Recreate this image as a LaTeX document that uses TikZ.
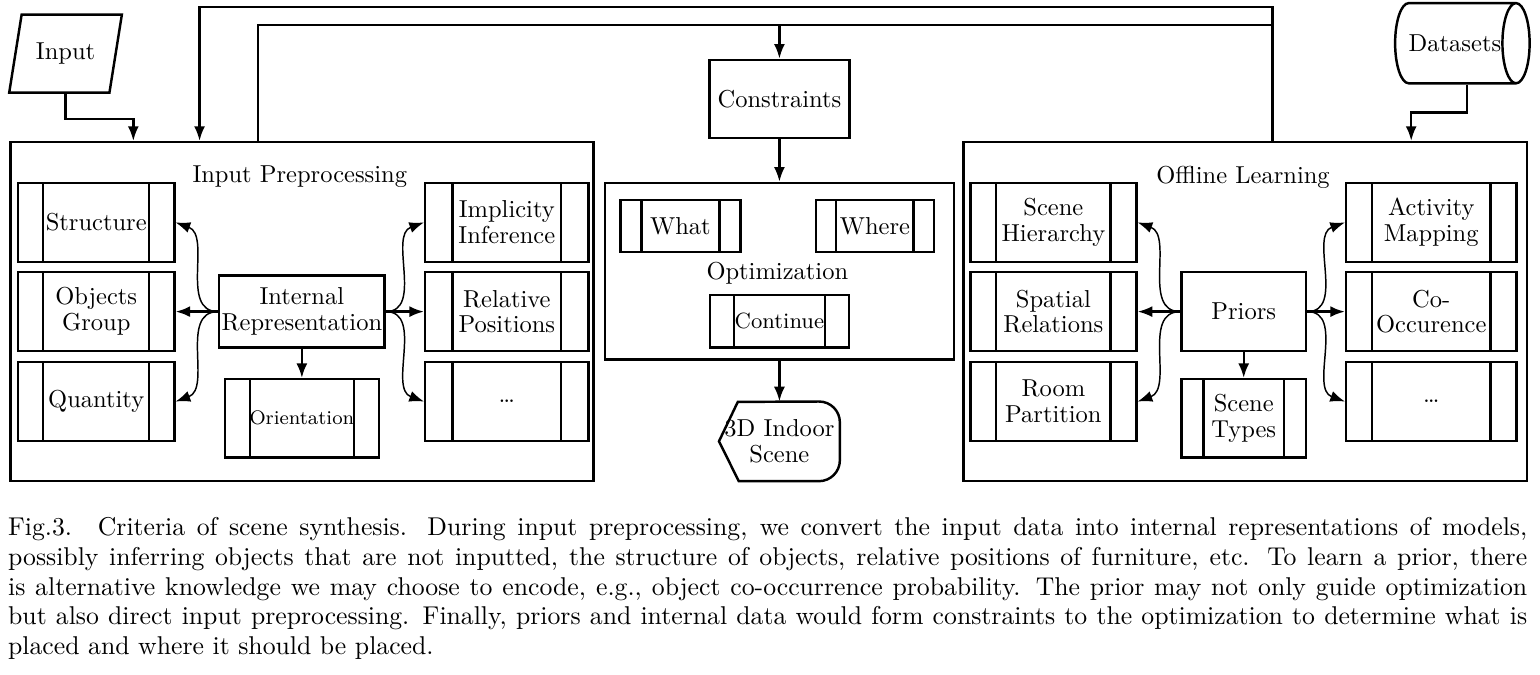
\documentclass[tikz,border=0pt]{standalone}
\usetikzlibrary{shapes.geometric,arrows.meta}

\begin{document}
\begin{tikzpicture}[
  font=\linespread{0.88}\selectfont,
  box/.style={draw, line width=1pt, align=center},
  proc/.style={box, path picture={
      \draw[line width=1pt]
        ([xshift=#1]path picture bounding box.north west) -- ([xshift=#1]path picture bounding box.south west)
        ([xshift=-#1]path picture bounding box.north east) -- ([xshift=-#1]path picture bounding box.south east);}},
  proc/.default=0.36cm,
  arr/.style={line width=1pt, -{Latex[length=6pt,width=4.5pt]}},
  carr/.style={line width=0.6pt, -{Latex[length=6pt,width=4.5pt]}},
  wire/.style={line width=1pt},
]
  \useasboundingbox (0,0) rectangle (22.09,-9.68);

  % input and datasets
  \node [box, trapezium, trapezium left angle=71, trapezium right angle=109, trapezium stretches=true,
         minimum width=1.62cm, minimum height=1.12cm, inner sep=1pt](in) at (0.94,-0.77) {Input};
  \node [box, cylinder, aspect=1.6, minimum width=1.15cm, minimum height=1.68cm, inner sep=0pt](data) at (20.87,-0.62) {Datasets};

  % input preprocessing
  \node [box, minimum width=8.36cm, minimum height=4.86cm](ipp) at (4.33,-4.47) {};
  \node (ipptitle) at (4.30,-2.53) {Input Preprocessing};
  \node [proc, minimum width=2.24cm, minimum height=1.13cm](struct) at (1.38,-3.19) {Structure};
  \node [proc, minimum width=2.24cm, minimum height=1.13cm](objs) at (1.38,-4.47) {Objects\\Group};
  \node [proc, minimum width=2.24cm, minimum height=1.13cm](quant) at (1.38,-5.76) {Quantity};
  \node [proc=0.39cm, minimum width=2.34cm, minimum height=1.13cm](impl) at (7.27,-3.19) {Implicity\\Inference};
  \node [proc=0.39cm, minimum width=2.34cm, minimum height=1.13cm](rel) at (7.27,-4.47) {Relative\\Positions};
  \node [proc=0.39cm, minimum width=2.34cm, minimum height=1.13cm](idots) at (7.27,-5.76) {\dots};
  \node [box, minimum width=2.34cm, minimum height=1.03cm, inner sep=1pt](ir) at (4.33,-4.47) {Internal\\Representation};
  \node [proc, minimum width=2.21cm, minimum height=1.12cm, font=\footnotesize](orient) at (4.33,-6.00) {Orientation};

  % constraints and optimization
  \node [box, minimum width=1.97cm, minimum height=1.12cm](cons) at (11.18,-1.42) {Constraints};
  \node [box, minimum width=5.01cm, minimum height=2.53cm](opt) at (11.18,-3.89) {};
  \node (opttitle) at (11.15,-3.92) {Optimization};
  \node [proc=0.30cm, minimum width=1.72cm, minimum height=0.75cm](what) at (9.76,-3.24) {What};
  \node [proc=0.29cm, minimum width=1.69cm, minimum height=0.75cm](where) at (12.55,-3.24) {Where};
  \node [proc=0.34cm, minimum width=1.99cm, minimum height=0.75cm, font=\small](cont) at (11.18,-4.61) {Continue};
  \node [align=center, minimum width=1.72cm, minimum height=1.13cm, inner sep=1pt](scene) at (11.18,-6.33) {3D Indoor\\Scene};
  \draw [line width=1pt] (scene.west) -- ++(0.27,0.565)
    [rounded corners=0.3cm] -- (scene.north east) -- (scene.south east)
    [sharp corners] -- ++(-1.45,0) -- cycle;

  % offline learning
  \node [box, minimum width=8.08cm, minimum height=4.86cm](ol) at (17.86,-4.47) {};
  \node (oltitle) at (17.83,-2.55) {Offline Learning};
  \node [proc=0.37cm, minimum width=2.38cm, minimum height=1.13cm](hier) at (15.11,-3.19) {Scene\\Hierarchy};
  \node [proc=0.37cm, minimum width=2.38cm, minimum height=1.13cm](spat) at (15.11,-4.47) {Spatial\\Relations};
  \node [proc=0.37cm, minimum width=2.38cm, minimum height=1.13cm](room) at (15.11,-5.76) {Room\\Partition};
  \node [proc=0.37cm, minimum width=2.44cm, minimum height=1.13cm](act) at (20.53,-3.19) {Activity\\Mapping};
  \node [proc=0.37cm, minimum width=2.44cm, minimum height=1.13cm](cooc) at (20.53,-4.47) {Co-\\Occurence};
  \node [proc=0.37cm, minimum width=2.44cm, minimum height=1.13cm](odots) at (20.53,-5.76) {\dots};
  \node [box, minimum width=1.79cm, minimum height=1.13cm](priors) at (17.84,-4.47) {Priors};
  \node [proc=0.32cm, minimum width=1.79cm, minimum height=1.12cm](types) at (17.84,-6.00) {Scene\\Types};

  % connections between the blocks
  \draw [arr] (in.center |- in.south) -- ++(0,-0.36) -| ([xshift=1.78cm]ipp.north west);
  \draw [arr] ([xshift=4.45cm]ol.north west) -- ++(0,1.92) -| ([xshift=2.73cm]ipp.north west);
  \draw [wire] ([xshift=3.57cm]ipp.north west) -- ++(0,1.66) -| ([xshift=4.45cm]ol.north west);
  \coordinate (bus) at ([yshift=0.49cm]cons.north);
  \draw [arr] (bus) -- (cons);
  \draw [arr] (cons) -- (opt);
  \draw [arr] (opt) -- (scene);
  \draw [arr] ([xshift=0.17cm]data.south) -- ++(0,-0.4) -| ([xshift=6.44cm]ol.north west);

  % inside input preprocessing
  \draw [carr] (ir.west) to[out=180, in=-20] (struct.east);
  \draw [arr] (ir) -- (objs);
  \draw [carr] (ir.west) to[out=180, in=20] (quant.east);
  \draw [carr] (ir.east) to[out=0, in=200] (impl.west);
  \draw [arr] (ir) -- (rel);
  \draw [carr] (ir.east) to[out=0, in=160] (idots.west);
  \draw [arr] (ir) -- (orient);

  % inside offline learning
  \draw [carr] (priors.west) to[out=180, in=-20] (hier.east);
  \draw [arr] (priors) -- (spat);
  \draw [carr] (priors.west) to[out=180, in=20] (room.east);
  \draw [carr] (priors.east) to[out=0, in=200] (act.west);
  \draw [arr] (priors) -- (cooc);
  \draw [carr] (priors.east) to[out=0, in=160] (odots.west);
  \draw [arr] (priors) -- (types);

  % caption
  \node [anchor=north west, text width=21.79cm, align=justify, inner sep=0pt, font=\fontsize{10.5}{12.1}\selectfont](cap) at (0.11,-7.42)
    {Fig.3.\quad Criteria of scene synthesis. During input preprocessing, we convert the input data into internal representations of models,\linebreak
     possibly inferring objects that are not inputted, the structure of objects, relative positions of furniture, etc. To learn a prior, there\linebreak
     is alternative knowledge we may choose to encode, e.g., object co-occurrence probability. The prior may not only guide optimization\linebreak
     but also direct input preprocessing. Finally, priors and internal data would form constraints to the optimization to determine what is\linebreak
     placed and where it should be placed.};
\end{tikzpicture}
\end{document}
